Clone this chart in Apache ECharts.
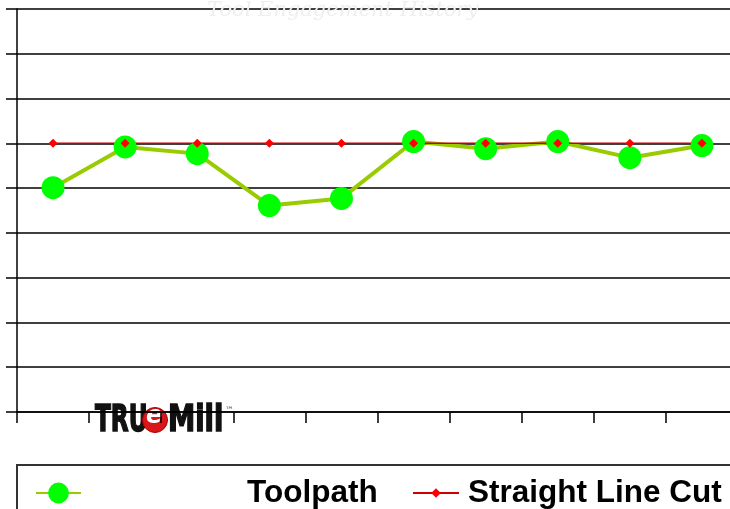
<!DOCTYPE html>
<html>
<head>
<meta charset="utf-8">
<script src="https://cdn.jsdelivr.net/npm/echarts@6/dist/echarts.min.js"></script>
<style>
html, body { margin: 0; padding: 0; background: #fff; }
#chart { width: 730px; height: 509px; }
</style>
</head>
<body>
<div id="chart"></div>
<script>
// data
var categories = ['1', '2', '3', '4', '5', '6', '7', '8', '9', '10'];
var toolpath = [5.01, 5.92, 5.77, 4.61, 4.77, 6.04, 5.88, 6.04, 5.68, 5.95];
var straightCut = [6, 6, 6, 6, 6, 6, 6, 6, 6, 6];
var yMin = 0, yMax = 9, yStep = 1;

var chart = echarts.init(document.getElementById('chart'));

var option = {
	animation: false,
	backgroundColor: '#fff',
	title: {
		text: 'Tool Engagement History',
		left: 202,
		top: -5,
		textStyle: {
			color: '#efefef',
			fontFamily: 'DejaVu Serif',
			fontStyle: 'italic',
			fontWeight: 'normal',
			fontSize: 21
		}
	},
	grid: {
		left: 17,
		right: -8,
		top: 9,
		bottom: 97,
		outerBoundsMode: 'none'
	},
	xAxis: {
		type: 'category',
		data: categories,
		boundaryGap: true,
		axisLine: { lineStyle: { color: '#000', width: 1.5 } },
		axisTick: { show: true, length: 11, lineStyle: { color: '#000', width: 1.5 } },
		axisLabel: { show: false },
		splitLine: { show: false }
	},
	yAxis: {
		type: 'value',
		min: yMin,
		max: yMax,
		interval: yStep,
		axisLine: { show: true, lineStyle: { color: '#000', width: 1.5 } },
		axisTick: { show: true, length: 11, lineStyle: { color: '#000', width: 1.5 } },
		axisLabel: { show: false },
		splitLine: { show: true, lineStyle: { color: '#000', width: 1.5 } }
	},
	legend: [{
		left: 30,
		top: 472,
		data: ['Toolpath'],
		itemWidth: 45,
		itemHeight: 26,
		textStyle: {
			fontFamily: 'Liberation Sans',
			fontWeight: 'bold',
			fontSize: 31.5,
			color: '#000',
			padding: [0, 0, 0, 161]
		}
	}, {
		left: 407,
		top: 472,
		data: ['Straight Line Cut'],
		itemWidth: 46,
		itemHeight: 12,
		textStyle: {
			fontFamily: 'Liberation Sans',
			fontWeight: 'bold',
			fontSize: 31.5,
			color: '#000',
			padding: [0, 0, 0, 4]
		}
	}],
	series: [{
		name: 'Toolpath',
		type: 'line',
		data: toolpath,
		symbol: 'circle',
		symbolSize: 23,
		itemStyle: { color: '#00ff00' },
		lineStyle: { color: '#99cc00', width: 4 }
	}, {
		name: 'Straight Line Cut',
		type: 'line',
		data: straightCut,
		symbol: 'diamond',
		symbolSize: 9,
		itemStyle: { color: '#ff0000' },
		lineStyle: { color: '#cc0000', width: 1.5 }
	}],
	graphic: [{
		type: 'rect',
		shape: { x: 17, y: 465, width: 730, height: 60 },
		style: { fill: 'none', stroke: '#333', lineWidth: 2 },
		z: 1
	}, {
		// TrueMill logo
		type: 'group',
		z: 100,
		children: [{
			type: 'rect',
			shape: { x: 91, y: 403, width: 148, height: 35 },
			style: { fill: '#fff' }
		}, {
			type: 'text',
			x: 95, y: 402, scaleX: 0.68,
			style: { text: 'TRU', fill: '#111', font: 'bold 38px "DejaVu Sans Condensed"', stroke: '#111', lineWidth: 1.5 }
		}, {
			type: 'circle',
			shape: { cx: 155, cy: 420, r: 12.5 },
			style: { fill: '#d81818', stroke: '#a00', lineWidth: 1 }
		}, {
			type: 'text',
			x: 146, y: 405,
			style: { text: 'e', fill: '#fff', font: 'italic bold 24px "DejaVu Sans"' }
		}, {
			type: 'text',
			x: 168, y: 402, scaleX: 0.8,
			style: { text: 'Mill', fill: '#111', font: 'bold 38px "DejaVu Sans Condensed"', stroke: '#111', lineWidth: 1.5 }
		}, {
			type: 'text',
			x: 225, y: 406,
			style: { text: '™', fill: '#555', font: '9px "DejaVu Sans"' }
		}]
	}]
};

chart.setOption(option);
</script>
</body>
</html>
